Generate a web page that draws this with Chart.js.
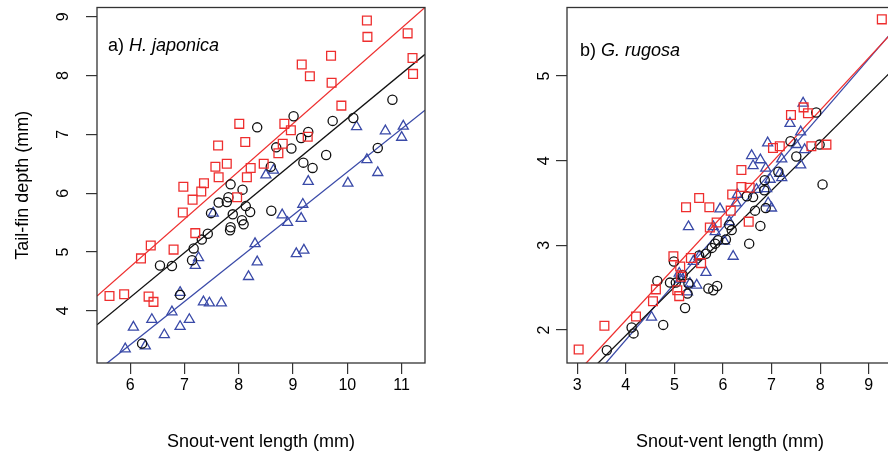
<!DOCTYPE html>
<html>
<head>
<meta charset="utf-8">
<script src="https://cdn.jsdelivr.net/npm/chart.js@4.4.0/dist/chart.umd.min.js"></script>
<style>
  html, body { margin: 0; padding: 0; background: #fff; overflow: hidden; }
  #wrap { position: relative; width: 920px; height: 458px; }
  #chartA { position: absolute; left: 0; top: 0; }
  #chartB { position: absolute; left: 444px; top: 0; }
</style>
</head>
<body>
<div id="wrap">
  <canvas id="chartA" width="444" height="458"></canvas>
  <canvas id="chartB" width="460" height="458"></canvas>
</div>
<script>
// a) H. japonica
const aRedX = [5.62, 5.89, 6.34, 6.43, 6.20, 6.38, 6.80, 7.20, 6.97, 7.15, 7.31, 6.98, 7.36, 7.57, 7.63, 8.15, 7.97, 8.22, 7.62, 7.78, 8.12, 8.01, 8.46, 8.73, 8.81, 8.84, 8.96, 9.27, 9.16, 9.31, 9.70, 9.71, 9.89, 10.36, 10.37, 11.11, 11.20, 11.21];
const aRedY = [4.25, 4.28, 4.24, 4.15, 4.89, 5.11, 5.04, 5.32, 5.67, 5.89, 6.03, 6.11, 6.17, 6.45, 6.27, 6.27, 5.93, 6.43, 6.81, 6.50, 6.87, 7.18, 6.50, 6.68, 6.84, 7.18, 7.07, 6.96, 8.19, 7.99, 8.34, 7.88, 7.49, 8.94, 8.66, 8.72, 8.30, 8.03];
const aBlackX = [6.22, 6.92, 6.55, 6.77, 7.14, 7.17, 7.32, 7.43, 7.49, 7.63, 7.78, 7.81, 7.85, 8.07, 7.89, 8.13, 8.21, 8.06, 8.09, 7.85, 7.84, 8.34, 8.60, 8.59, 8.69, 8.97, 9.01, 9.15, 9.28, 9.19, 9.36, 9.61, 9.73, 10.11, 10.56, 10.83];
const aBlackY = [3.44, 4.27, 4.77, 4.76, 4.86, 5.06, 5.21, 5.31, 5.66, 5.84, 5.85, 5.93, 6.15, 6.06, 5.64, 5.78, 5.68, 5.54, 5.47, 5.42, 5.37, 7.12, 5.70, 6.45, 6.78, 6.76, 7.31, 6.94, 7.04, 6.52, 6.43, 6.65, 7.23, 7.28, 6.77, 7.59];
const aBlueX = [5.91, 6.28, 6.06, 6.40, 6.63, 6.77, 6.92, 7.09, 6.92, 7.35, 7.46, 7.68, 7.20, 7.26, 7.53, 8.18, 8.30, 8.34, 8.50, 8.64, 8.80, 8.90, 9.15, 9.18, 9.06, 9.20, 9.28, 10.01, 10.17, 10.36, 10.56, 10.70, 11.03, 11.00];
const aBlueY = [3.35, 3.40, 3.72, 3.85, 3.59, 3.98, 3.73, 3.85, 4.31, 4.15, 4.13, 4.13, 4.77, 4.90, 5.66, 4.58, 5.14, 4.83, 6.31, 6.39, 5.63, 5.50, 5.57, 5.81, 4.97, 5.03, 6.20, 6.17, 7.13, 6.57, 6.35, 7.06, 7.14, 6.95];
// fitted lines: [intercept, slope]
const aFitRed = [-0.132, 0.813];
const aFitBlack = [-0.347, 0.762];
const aFitBlue = [-0.99, 0.735];
const aXRange = [5.39, 11.43];
const aYRange = [3.11, 9.16];

// b) G. rugosa
const bRedX = [3.03, 3.56, 4.21, 4.56, 4.62, 5.06, 5.10, 5.14, 4.98, 5.12, 5.34, 5.55, 5.24, 5.51, 5.72, 5.73, 5.87, 6.16, 6.19, 6.53, 6.38, 6.55, 6.38, 7.03, 7.17, 7.40, 7.66, 7.75, 7.82, 8.13, 9.27];
const bRedY = [1.77, 2.05, 2.16, 2.34, 2.48, 2.47, 2.40, 2.63, 2.87, 2.75, 2.85, 2.79, 3.45, 3.56, 3.45, 3.21, 3.27, 3.41, 3.60, 3.28, 3.69, 3.68, 3.89, 4.15, 4.17, 4.54, 4.63, 4.56, 4.17, 4.19, 5.67];
const bBlackX = [3.61, 4.12, 4.16, 4.77, 5.22, 4.65, 4.91, 4.99, 5.17, 5.27, 5.03, 5.70, 5.80, 5.88, 5.51, 5.65, 5.77, 5.84, 5.90, 6.06, 6.18, 6.13, 6.54, 6.77, 6.66, 6.88, 6.62, 6.49, 6.85, 6.86, 7.14, 7.51, 7.39, 7.99, 7.92, 8.05, 5.29];
const bBlackY = [1.76, 2.03, 1.96, 2.06, 2.26, 2.58, 2.56, 2.81, 2.65, 2.43, 2.56, 2.49, 2.47, 2.52, 2.88, 2.90, 2.97, 3.02, 3.06, 3.07, 3.18, 3.24, 3.02, 3.23, 3.41, 3.44, 3.57, 3.58, 3.65, 3.77, 3.87, 4.05, 4.23, 4.19, 4.57, 3.72, 2.55];
const bBlueX = [4.53, 5.10, 5.12, 5.27, 5.46, 5.32, 5.65, 5.51, 5.39, 5.29, 6.21, 6.03, 5.84, 5.80, 5.94, 6.13, 6.27, 6.30, 6.59, 6.77, 6.62, 6.92, 6.88, 6.97, 7.21, 7.21, 6.93, 7.00, 7.38, 7.60, 7.65, 7.51, 7.60, 7.68, 6.69, 6.90, 7.17];
const bBlueY = [2.15, 2.67, 2.60, 2.45, 2.53, 2.55, 2.68, 2.87, 2.81, 3.22, 2.87, 3.05, 3.16, 3.22, 3.43, 3.28, 3.50, 3.60, 4.06, 4.01, 3.94, 4.21, 3.91, 3.78, 3.80, 4.02, 3.50, 3.44, 4.44, 4.34, 4.68, 4.19, 3.95, 4.13, 3.66, 3.67, 3.85];
const bFitRed = [-0.365, 0.62];
const bFitBlack = [-0.349, 0.571];
const bFitBlue = [-0.774, 0.664];
const bXRange = [2.79, 9.5];
const bYRange = [1.61, 5.81];

const xTitle = 'Snout-vent length (mm)';
const yTitle = 'Tail-fin depth (mm)';

const RED = '#ee2e2e';
const BLACK = '#111111';
const BLUE = '#3a4aa8';
const FONT = '"Liberation Sans", Arial, sans-serif';

function pts(xs, ys) {
  return xs.map((x, i) => ({ x: x, y: ys[i] }));
}

function fitLine(fit, range) {
  return range.map(x => ({ x: x, y: fit[0] + fit[1] * x }));
}

function pointSet(xs, ys, color, style, radius) {
  return {
    data: pts(xs, ys),
    pointStyle: style,
    pointRadius: radius,
    pointHoverRadius: radius,
    pointBorderColor: color,
    pointBackgroundColor: 'rgba(0,0,0,0)',
    pointBorderWidth: 1.3,
    showLine: false
  };
}

function lineSet(fit, range, color) {
  return {
    data: fitLine(fit, range),
    showLine: true,
    borderColor: color,
    borderWidth: 1.3,
    pointRadius: 0,
    fill: false
  };
}

// R style box round the plot region
const boxPlugin = {
  id: 'box',
  afterDraw(chart) {
    const { ctx, chartArea: a } = chart;
    ctx.save();
    ctx.strokeStyle = '#333';
    ctx.lineWidth = 1.3;
    ctx.strokeRect(a.left, a.top, a.right - a.left, a.bottom - a.top);
    ctx.restore();
  }
};

const panelLabel = {
  id: 'panelLabel',
  afterDraw(chart, args, opts) {
    const { ctx, chartArea } = chart;
    const x0 = chartArea.left + opts.dx;
    const y0 = chartArea.top + opts.dy;
    ctx.save();
    ctx.fillStyle = '#000';
    ctx.textBaseline = 'alphabetic';
    ctx.font = '18px ' + FONT;
    ctx.fillText(opts.prefix, x0, y0);
    const w = ctx.measureText(opts.prefix).width;
    ctx.font = 'italic 18px ' + FONT;
    ctx.fillText(opts.species, x0 + w, y0);
    ctx.restore();
  }
};

function makePanel(id, p) {
  return new Chart(document.getElementById(id), {
    type: 'scatter',
    data: {
      datasets: [
        pointSet(p.redX, p.redY, RED, 'rect', 6.2),
        pointSet(p.blackX, p.blackY, BLACK, 'circle', 4.6),
        pointSet(p.blueX, p.blueY, BLUE, 'triangle', 5.8),
        lineSet(p.fitRed, p.xRange, RED),
        lineSet(p.fitBlack, p.xRange, BLACK),
        lineSet(p.fitBlue, p.xRange, BLUE)
      ]
    },
    options: {
      responsive: false,
      animation: false,
      events: [],
      layout: { padding: p.padding },
      plugins: {
        legend: { display: false },
        tooltip: { enabled: false },
        panelLabel: p.label
      },
      scales: {
        x: {
          type: 'linear',
          min: p.xRange[0],
          max: p.xRange[1],
          afterFit: s => { s.height = 95; s.paddingLeft = 0; s.paddingRight = 0; },
          grid: { drawOnChartArea: false, drawTicks: true, tickLength: 11, color: '#333', lineWidth: 1.2 },
          border: { display: false },
          ticks: { stepSize: 1, includeBounds: false, padding: 2, color: '#000', font: { family: FONT, size: 16 } },
          title: { display: true, text: xTitle, color: '#000', font: { family: FONT, size: 18 }, padding: { top: 0, bottom: 5 } }
        },
        y: {
          type: 'linear',
          min: p.yRange[0],
          max: p.yRange[1],
          afterFit: s => { s.width = p.yWidth; s.paddingTop = 0; s.paddingBottom = 0; },
          grid: { drawOnChartArea: false, drawTicks: true, tickLength: 11, color: '#333', lineWidth: 1.2 },
          border: { display: false },
          ticks: { stepSize: 1, includeBounds: false, minRotation: 90, maxRotation: 90, crossAlign: 'center', padding: p.yTickPad, color: '#000', font: { family: FONT, size: 16 } },
          title: { display: p.showYTitle, text: yTitle, color: '#000', font: { family: FONT, size: 18 }, padding: { top: 12, bottom: 0 } }
        }
      }
    },
    plugins: [boxPlugin, panelLabel]
  });
}

makePanel('chartA', {
  redX: aRedX, redY: aRedY, blackX: aBlackX, blackY: aBlackY, blueX: aBlueX, blueY: aBlueY,
  fitRed: aFitRed, fitBlack: aFitBlack, fitBlue: aFitBlue,
  xRange: aXRange, yRange: aYRange,
  padding: { left: 0, top: 6, right: 19, bottom: 0 },
  yWidth: 97, yTickPad: 18, showYTitle: true,
  label: { prefix: 'a) ', species: 'H. japonica', dx: 11, dy: 43 }
});

makePanel('chartB', {
  redX: bRedX, redY: bRedY, blackX: bBlackX, blackY: bBlackY, blueX: bBlueX, blueY: bBlueY,
  fitRed: bFitRed, fitBlack: bFitBlack, fitBlue: bFitBlue,
  xRange: bXRange, yRange: bYRange,
  padding: { left: 0, top: 7, right: 11, bottom: 0 },
  yWidth: 123, yTickPad: 7, showYTitle: false,
  label: { prefix: 'b) ', species: 'G. rugosa', dx: 13, dy: 48 }
});
</script>
</body>
</html>
